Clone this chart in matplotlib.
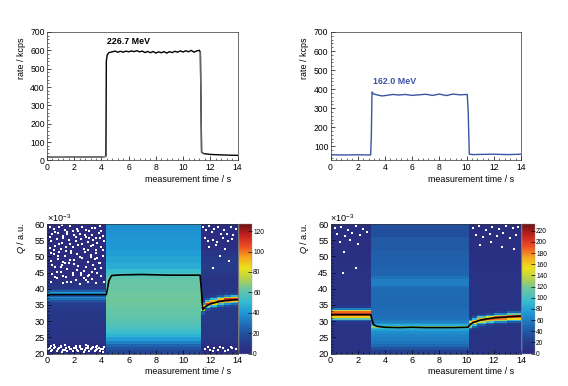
import matplotlib
matplotlib.use('Agg')
from matplotlib import pyplot as plt
from matplotlib.colors import LinearSegmentedColormap
from matplotlib.ticker import MultipleLocator
import numpy as np

plt.rcParams['font.family'] = ['Liberation Sans', 'DejaVu Sans']
plt.rcParams['mathtext.fontset'] = 'custom'
plt.rcParams['mathtext.rm'] = 'Liberation Sans'
plt.rcParams['mathtext.it'] = 'Liberation Sans:italic'
plt.rcParams['mathtext.bf'] = 'Liberation Sans:bold'

W, H = 568, 386

# rate curves
rate_t_a = [0, 1, 2, 3, 4, 4.33, 4.36, 4.42, 4.55, 4.8, 5.0, 5.2, 5.4, 5.6, 5.8, 6, 6.2, 6.4, 6.6, 6.8, 7, 7.2, 7.4, 7.6, 7.8, 8, 8.2, 8.4, 8.6, 8.8, 9, 9.2, 9.4, 9.6, 9.8, 10, 10.2, 10.4, 10.6, 10.8, 11, 11.2, 11.27, 11.31, 11.36, 11.5, 12, 13, 14]
rate_a = [19, 18, 20, 19, 19, 22, 540, 575, 588, 592, 596, 590, 595, 590, 596, 592, 597, 593, 598, 592, 596, 588, 594, 587, 594, 585, 592, 587, 593, 585, 593, 588, 595, 590, 597, 591, 598, 592, 600, 590, 597, 600, 590, 350, 45, 38, 33, 30, 28]
rate_t_b = [0, 1, 2, 2.95, 3.0, 3.05, 3.15, 3.4, 3.8, 4.2, 4.6, 5, 5.5, 6, 6.5, 7, 7.5, 8, 8.5, 9, 9.5, 10.05, 10.12, 10.2, 10.5, 11, 12, 13, 14]
rate_b = [55, 54, 55, 54, 150, 385, 375, 370, 364, 368, 372, 369, 372, 367, 370, 373, 367, 374, 366, 374, 370, 372, 280, 58, 56, 57, 58, 56, 58]

# Q bins and bin counts
q_a = [20, 21, 22, 23, 24, 25, 26, 27, 28, 29, 30, 31, 32, 33, 34, 34.5, 35, 35.5, 36, 36.5, 37, 37.5, 38, 38.5, 39, 39.5, 40, 41, 42, 43, 44, 45, 46, 48, 50, 52, 54, 56, 58, 60]
t_a = [0, 4.35, 11.3, 11.6, 12, 12.5, 13, 13.5, 14]
before_a = [3, 2, 2, 4, 5, 6, 6, 6, 6, 7, 7, 7, 8, 9, 10, 11, 12, 15, 20, 30, 36, 22, 18, 42, 24, 12, 7, 5, 3, 2, 2, 2, 2, 1, 1, 1, 1, 1, 1]
during_a = [14, 20, 26, 34, 42, 48, 52, 55, 57, 59, 60, 61, 62, 62, 63, 63, 64, 63, 64, 64, 64, 63, 64, 64, 63, 63, 63, 63, 62, 60, 56, 52, 46, 44, 42, 40, 40, 39, 38]
after_low = [3, 2, 3, 5, 7, 7, 8, 8, 8, 9, 9, 9]
after_high = [6, 5, 5, 6, 7, 9, 10, 9, 6, 3, 2, 2, 2]
after1_a = after_low + [22, 75, 110, 85, 45, 20, 12, 9, 8, 7, 7, 6, 6, 6] + after_high
after2_a = after_low + [10, 20, 50, 85, 110, 90, 50, 22, 12, 8, 7, 6, 6, 6] + after_high
after3_a = after_low + [9, 12, 25, 50, 85, 110, 90, 50, 22, 12, 8, 7, 6, 6] + after_high
after4_a = after_low + [9, 10, 14, 28, 55, 90, 110, 90, 50, 22, 12, 8, 7, 6] + after_high
after5_a = after_low + [9, 9, 12, 18, 38, 70, 100, 110, 75, 35, 15, 9, 7, 6] + after_high
after6_a = after_low + [9, 9, 11, 15, 28, 55, 90, 110, 90, 50, 20, 10, 7, 6] + after_high

q_b = [20, 21, 22, 23, 24, 25, 26, 27, 27.5, 28, 28.5, 29, 29.5, 30, 30.5, 31, 31.5, 32, 32.5, 33, 33.5, 34, 35, 36, 38, 40, 41, 42, 43, 44, 46, 48, 52, 56, 60]
t_b = [0, 3.0, 10.15, 10.4, 10.8, 11.4, 12, 13, 14]
low_b = [10, 10, 10, 10, 10, 10, 10]
high_b = [12, 10, 10, 10, 10, 10, 9, 9, 9, 8, 7, 6, 5]
before_b = low_b + [10, 10, 10, 10, 11, 16, 45, 110, 160, 185, 195, 185, 140, 60] + [18] + high_b[1:]
during_b = [22, 35, 50, 56, 60, 64, 68, 78, 95, 125, 85, 68, 62, 58, 55, 54, 53, 52, 52, 51, 51, 50, 50, 50, 50, 52, 60, 60, 54, 48, 46, 44, 40, 34]
after1_b = low_b + [22, 50, 110, 170, 185, 150, 80, 30, 15, 11, 10, 10, 10, 10] + high_b
after2_b = low_b + [14, 22, 45, 95, 150, 185, 160, 90, 35, 16, 11, 10, 10, 10] + high_b
after3_b = low_b + [12, 14, 20, 40, 85, 140, 185, 170, 110, 45, 18, 11, 10, 10] + high_b
after4_b = low_b + [11, 12, 14, 22, 50, 105, 165, 190, 150, 80, 28, 13, 10, 10] + high_b
after5_b = low_b + [10, 11, 12, 14, 28, 65, 130, 180, 190, 130, 65, 20, 12, 10] + high_b
after6_b = low_b + [10, 10, 11, 12, 18, 40, 90, 155, 190, 190, 115, 45, 16, 11] + high_b

# mean Q curves (x 1e-3)
mean_t_a = [0, 0.2, 4.35, 4.42, 4.55, 4.75, 5.5, 7, 9, 11.25, 11.32, 11.45, 11.65, 12, 12.5, 13, 13.5, 14]
mean_a = [37.9, 38.2, 38.2, 39.5, 42.5, 44.1, 44.3, 44.4, 44.2, 44.2, 41, 33.5, 34.5, 35.3, 35.9, 36.3, 36.5, 36.6]
mean_t_b = [0, 2.95, 3.05, 3.15, 3.4, 4, 5, 6, 7, 8, 9, 10.1, 10.25, 10.5, 11, 11.5, 12, 13, 14]
mean_b = [32, 32, 30.5, 29, 28.4, 28.1, 28, 28.1, 28, 28, 28, 28.1, 28.9, 29.6, 30.3, 30.7, 31, 31.3, 31.6]

# empty bins (white flecks), t in s and Q in 1e-3
fleck_t_a = [0.2, 0.5, 0.9, 1.3, 1.7, 2.2, 2.6, 3.1, 3.5, 3.9, 0.4, 0.8, 1.2, 1.5, 2.0, 2.4, 2.9, 3.3, 3.8, 4.1, 0.3, 0.7, 1.1, 1.6, 2.1, 2.5, 3.0, 3.4, 3.7, 4.2, 0.2, 0.6, 1.0, 1.4, 1.9, 2.3, 2.7, 3.2, 3.6, 4.0, 0.5, 0.9, 1.3, 1.8, 2.2, 2.8, 3.2, 3.6, 4.1, 0.3, 0.8, 1.2, 1.7, 2.0, 2.6, 3.0, 3.5, 3.9, 0.6, 1.1, 1.5, 2.3, 2.9, 3.4, 4.0, 0.4, 1.0, 1.9, 2.5, 3.1, 3.7, 0.7, 1.4, 2.1, 2.7, 3.3, 0.3, 1.2, 1.8, 2.4, 3.0, 3.6, 4.2]
fleck_q_a = [59, 58.5, 59.2, 58, 59.4, 58.4, 59.1, 57.8, 58.8, 59.3, 56.8, 57.2, 56.2, 57.4, 56.6, 57, 56.1, 56.7, 57.3, 56.4, 54.6, 55.3, 54.2, 55, 54.8, 55.5, 54.4, 55.2, 54, 54.9, 52.6, 53.2, 52.2, 53, 52.8, 53.4, 52.4, 53.1, 52, 52.9, 50.6, 51.2, 50.2, 51, 50.8, 51.4, 50.4, 51.1, 50, 48.6, 49.2, 48.2, 49, 48.8, 49.4, 48.4, 49.1, 48, 46.6, 47.2, 46.2, 47, 46.8, 47.4, 46.4, 44.6, 45.2, 44.2, 45, 44.4, 44.8, 43.2, 43.6, 42.8, 43.4, 43, 42, 41.8, 42.2, 41.6, 42, 41.8, 42.2]
fleck_t_a4 = [1.1, 1.9, 2.9, 0.6, 1.5, 3.3, 4.0, 0.2, 2.3, 3.6, 1.2, 2.8, 0.9, 1.7, 3.1, 3.9, 0.5, 2.1, 3.4, 1.4, 2.6, 0.3, 1.8, 3.0, 4.1, 0.8, 2.4, 3.7, 1.3, 2.0, 3.2, 0.4, 1.6, 2.7, 3.5, 1.0, 2.2, 0.7, 3.8, 2.5, 1.2, 3.3, 0.6, 1.9, 2.9, 4.0, 1.5, 3.0]
fleck_q_a4 = [59.6, 57.9, 58.1, 57.6, 56.9, 58.7, 57.9, 55.9, 57.7, 55.8, 55.8, 56.7, 53.7, 53.8, 55.7, 55.7, 52, 56, 53.6, 51.8, 53.7, 50.9, 51.8, 51.9, 52.1, 50, 49.8, 49.6, 47.9, 47.6, 49.8, 47.4, 47.8, 45.6, 46.2, 46.8, 45.7, 45.1, 47.9, 44.1, 43.9, 45.3, 43.5, 44.9, 42.6, 43.8, 42.2, 43.9]
fleck_t_a2 = [0.2, 0.4, 0.6, 0.8, 1.0, 1.2, 1.4, 1.6, 1.8, 2.0, 2.2, 2.4, 2.6, 2.8, 3.0, 3.2, 3.4, 3.6, 3.8, 4.0, 4.2, 0.3, 0.7, 1.1, 1.5, 1.9, 2.3, 2.7, 3.1, 3.5, 3.9, 4.1, 0.5, 1.3, 2.1, 2.9, 3.7, 0.1, 0.5, 0.9, 1.3, 1.7, 2.1, 2.5, 2.9, 3.3, 3.7, 4.1, 0.3, 1.0, 1.6, 2.4, 3.0, 3.6, 11.6, 12.0, 12.3, 12.6, 12.9, 13.3, 13.6, 13.9, 11.8, 12.2, 12.7, 13.1, 13.5]
fleck_q_a2 = [21.8, 21.2, 22, 21.4, 21.9, 21.1, 21.6, 22, 21.3, 21.7, 21.2, 22, 21.5, 21.1, 21.8, 21.4, 22, 21.2, 21.7, 21.3, 21.9, 20.7, 20.9, 20.6, 20.8, 20.7, 20.9, 20.6, 20.8, 20.7, 20.9, 20.6, 22.5, 22.6, 22.4, 22.6, 22.4, 21.5, 21.6, 21.8, 21.2, 21.5, 21.7, 21.4, 21.6, 21.8, 21.5, 21.5, 22.2, 22.3, 22.1, 22.2, 22.3, 22.1, 21.5, 21, 21.8, 21.2, 21.6, 21, 21.7, 21.3, 22, 20.8, 22.1, 20.9, 22]
fleck_t_a3 = [11.5, 11.7, 11.9, 12.1, 12.3, 12.6, 12.8, 13.0, 13.2, 13.5, 13.7, 13.9, 11.6, 11.8, 12.2, 12.5, 12.9, 13.3, 13.6, 11.9, 12.4, 13.1, 12.7, 13.4, 12.2]
fleck_q_a3 = [59, 58, 59.3, 57.5, 58.6, 59.2, 56.8, 58.2, 57, 59.1, 56.6, 58.4, 55.6, 54.8, 55.2, 54.4, 55.7, 54.6, 55.4, 52.8, 53.4, 52.2, 50.2, 48.6, 46.4]
fleck_t_b = [0.3, 0.8, 1.3, 1.9, 2.4, 0.5, 1.1, 1.6, 2.2, 2.7, 0.7, 1.4, 2.0, 0.9, 1.0, 1.9, 10.5, 10.9, 11.4, 11.9, 12.4, 12.9, 13.4, 13.8, 10.7, 11.2, 11.7, 12.2, 12.7, 13.2, 13.6, 11.0, 11.8, 12.6, 13.5]
fleck_q_b = [58.8, 59.2, 58.2, 59.4, 58.6, 56.8, 56.2, 57.2, 56.6, 57.4, 54.4, 55, 53.8, 44.8, 51.5, 46.3, 58.8, 59.3, 58, 59, 58.4, 59.3, 58.7, 59.1, 56.6, 56, 57, 56.4, 57.2, 55.8, 56.6, 53.6, 54.4, 53, 52.4]

xlabel = 'measurement time / s'
ylabel_top = 'rate / kcps'
ylabel_bot = r'$\mathit{Q}$ / a.u.'
blue = '#3a54a4'

cmap = LinearSegmentedColormap.from_list('root_rainbow', [
    (0.00, '#2b2a7e'), (0.10, '#25408f'), (0.20, '#1f62ae'), (0.32, '#1f9ad6'),
    (0.40, '#35bdd2'), (0.50, '#6cc6a0'), (0.58, '#b6d24a'), (0.66, '#ece11c'),
    (0.74, '#f5a81e'), (0.83, '#ee4b22'), (0.92, '#c01f1f'), (1.00, '#6e1414')])


def px_axes(fig, x0, y0, x1, y1):
    return fig.add_axes([x0 / W, 1 - y1 / H, (x1 - x0) / W, (y1 - y0) / H])


def style(ax, minor_y):
    ax.set_xlim(0, 14)
    ax.xaxis.set_major_locator(MultipleLocator(2))
    ax.xaxis.set_minor_locator(MultipleLocator(0.4))
    ax.yaxis.set_minor_locator(MultipleLocator(minor_y))
    ax.tick_params(which='major', direction='in', length=3.2, width=0.5, labelsize=6.2, pad=1.5)
    ax.tick_params(which='minor', direction='in', length=1.6, width=0.4)
    for s in ax.spines.values():
        s.set_linewidth(0.5)
        s.set_color('#333333')


def top_panel(fig, x0, x1, t, r, c, label, lx, ly, ymin, xl, yl):
    ax = px_axes(fig, x0, 32, x1, 160.5)
    ax.plot(t, r, color=c, lw=1.0)
    ax.set_ylim(ymin, 700)
    ax.yaxis.set_major_locator(MultipleLocator(100))
    style(ax, 20)
    ax.text(lx, ly, label, color=c, fontsize=6.4, fontweight='bold', ha='left', va='center',
            transform=fig.transFigure)
    fig.text(xl / W, 1 - 180 / H, xlabel, fontsize=6.4, ha='right', va='center')
    fig.text(yl / W, 1 - 58 / H, ylabel_top, fontsize=6.4, rotation=90, ha='center', va='center')
    return ax


def bot_panel(fig, x0, x1, cx0, cx1, t, q, cols, vmax, ct, mt, mq, flecks, xl, yl):
    ax = px_axes(fig, x0, 224, x1, 353.5)
    z = np.array(cols).T
    m = ax.pcolormesh(t, q, z, cmap=cmap, vmin=0, vmax=vmax, shading='flat', linewidth=0, rasterized=True)
    for ft, fq in flecks:
        ax.scatter(ft, fq, s=0.9, c='white', marker='s', linewidths=0, zorder=2)
    ax.plot(mt, mq, color='black', lw=1.2, zorder=3)
    ax.set_ylim(20, 60)
    ax.yaxis.set_major_locator(MultipleLocator(5))
    style(ax, 1)
    ax.tick_params(which='major', labelsize=6.6)
    cax = px_axes(fig, cx0, 224, cx1, 353.5)
    cb = fig.colorbar(m, cax=cax)
    cb.set_ticks(ct)
    cb.ax.tick_params(direction='in', length=3.2, width=0.5, labelsize=4.8, pad=1.2)
    cb.outline.set_linewidth(0.3)
    cb.outline.set_edgecolor('#999999')
    fig.text(x0 / W, 1 - 218.5 / H, r'$\times$10$^{-3}$', fontsize=6.6, ha='left', va='center')
    fig.text(xl / W, 1 - 372 / H, xlabel, fontsize=6.4, ha='right', va='center')
    fig.text(yl / W, 1 - 238 / H, ylabel_bot, fontsize=6.6, rotation=90, ha='center', va='center')


fig = plt.figure(figsize=(W / 100, H / 100), dpi=100)

ax_a = top_panel(fig, 47, 237.5, rate_t_a, rate_a, 'black', '226.7 MeV', 107 / W, 1 - 41.7 / H, 0, 231, 21)
ax_a.plot(rate_t_a[:6], rate_a[:6], color='#888888', lw=1.0)
ax_a.plot(rate_t_a[-7:-3], rate_a[-7:-3], color='#666666', lw=1.0)
top_panel(fig, 330.5, 521, rate_t_b, rate_b, blue, '162.0 MeV', 373 / W, 1 - 81.7 / H, 25, 514, 304.5)

bot_panel(fig, 47, 237.5, 238.5, 251.5, t_a, q_a,
          [before_a, during_a, after1_a, after2_a, after3_a, after4_a, after5_a, after6_a],
          127, list(range(0, 121, 20)), mean_t_a, mean_a,
          [(fleck_t_a, fleck_q_a), (fleck_t_a4, fleck_q_a4), (fleck_t_a2, fleck_q_a2), (fleck_t_a3, fleck_q_a3)], 231, 21)
bot_panel(fig, 330.5, 521, 521.5, 534.5, t_b, q_b,
          [before_b, during_b, after1_b, after2_b, after3_b, after4_b, after5_b, after6_b],
          232, list(range(0, 221, 20)), mean_t_b, mean_b,
          [(fleck_t_b, fleck_q_b)], 514, 304.5)

fig.savefig('out.png', dpi=100)
